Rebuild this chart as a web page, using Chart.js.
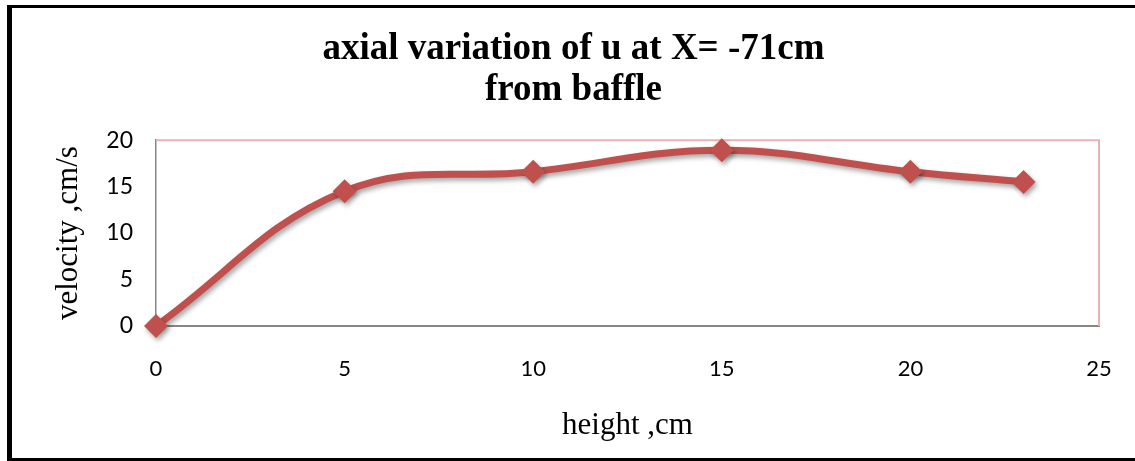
<!DOCTYPE html>
<html>
<head>
<meta charset="utf-8">
<script src="https://cdn.jsdelivr.net/npm/chart.js@4.4.1/dist/chart.umd.min.js"></script>
<style>
  body { margin: 0; background: #fff; }
  #wrap { position: relative; width: 1135px; height: 461px; }
  #frame {
    position: absolute; left: 7px; top: 5px; width: 1140px; height: 450px;
    border-left: 5px solid #000; border-top: 3px solid #000; border-bottom: 3px solid #000;
    pointer-events: none;
  }
</style>
</head>
<body>
<div id="wrap">
  <canvas id="velChart" width="1135" height="461"></canvas>
  <div id="frame"></div>
</div>
<script>
var heights = [0, 5, 10, 15, 20, 23];
var velocities = [0, 14.5, 16.6, 18.9, 16.6, 15.5];
var titleLines = ["axial variation of u at X= -71cm", "from baffle"];
var xTitle = "height ,cm";
var yTitle = "velocity ,cm/s";

// pink frame on top/right of plot area like the excel chart
var plotFrame = {
    id: "plotFrame",
    beforeDatasetsDraw: function(chart) {
        var a = chart.chartArea;
        var ctx = chart.ctx;
        ctx.save();
        ctx.strokeStyle = "#e6b4b4";
        ctx.lineWidth = 2;
        ctx.beginPath();
        ctx.moveTo(a.left, a.top);
        ctx.lineTo(a.right, a.top);
        ctx.lineTo(a.right, a.bottom);
        ctx.stroke();
        ctx.restore();
    }
};

var shadow = {
    id: "shadow",
    beforeDatasetsDraw: function(chart) {
        var ctx = chart.ctx;
        ctx.save();
        ctx.shadowColor = "rgba(0,0,0,0.35)";
        ctx.shadowBlur = 5;
        ctx.shadowOffsetX = 2;
        ctx.shadowOffsetY = 3;
    },
    afterDatasetsDraw: function(chart) {
        chart.ctx.restore();
    }
};

var points = [];
for (var i = 0; i < heights.length; i++) {
    points.push({ x: heights[i], y: velocities[i] });
}

new Chart(document.getElementById("velChart"), {
    type: "line",
    data: {
        datasets: [{
            data: points,
            clip: false,
            borderColor: "#c0504d",
            backgroundColor: "#c0504d",
            borderWidth: 7,
            tension: 0.4,
            pointStyle: "rectRot",
            pointRadius: 12,
            pointBorderWidth: 0,
            pointBackgroundColor: "#c0504d"
        }]
    },
    options: {
        responsive: false,
        animation: false,
        layout: { padding: { left: 12, right: 0, top: 0, bottom: 0 } },
        plugins: {
            legend: { display: false },
            tooltip: { enabled: false },
            title: {
                display: true,
                text: titleLines,
                color: "#000",
                font: { family: "Liberation Serif", size: 37, weight: "bold", lineHeight: 1.11 },
                padding: { top: 29, bottom: 29 }
            }
        },
        scales: {
            x: {
                type: "linear",
                min: 0, max: 25,
                grid: { display: false, drawTicks: false },
                border: { color: "#868686", width: 2 },
                ticks: {
                    stepSize: 5, padding: 30, color: "#000",
                    font: { family: "Lato", size: 22 }
                },
                title: {
                    display: true, text: xTitle, color: "#000",
                    font: { family: "Liberation Serif", size: 31 },
                    padding: { top: 0, bottom: 17 }
                },
                afterFit: function(scale) {
                    scale.height = 135;
                    // tick padding is vertical here, don't let it eat side space
                    scale.paddingLeft = 12;
                    scale.paddingRight = 12;
                }
            },
            y: {
                min: 0, max: 20,
                grid: { display: false, drawTicks: false },
                border: { color: "#868686", width: 1.5 },
                ticks: {
                    stepSize: 5, padding: 23, color: "#000",
                    font: { family: "Lato", size: 23 }
                },
                title: {
                    display: true, text: yTitle, color: "#000",
                    font: { family: "Liberation Serif", size: 31 },
                    padding: { top: 38, bottom: 0 }
                },
                afterFit: function(scale) { scale.width = 144; }
            },
            // empty axis only to keep space on the right of the plot
            yPad: {
                position: "right",
                min: 0, max: 20,
                grid: { display: false, drawTicks: false },
                border: { display: false },
                ticks: { display: false },
                afterFit: function(scale) { scale.width = 36; }
            }
        }
    },
    plugins: [plotFrame, shadow]
});
</script>
</body>
</html>
